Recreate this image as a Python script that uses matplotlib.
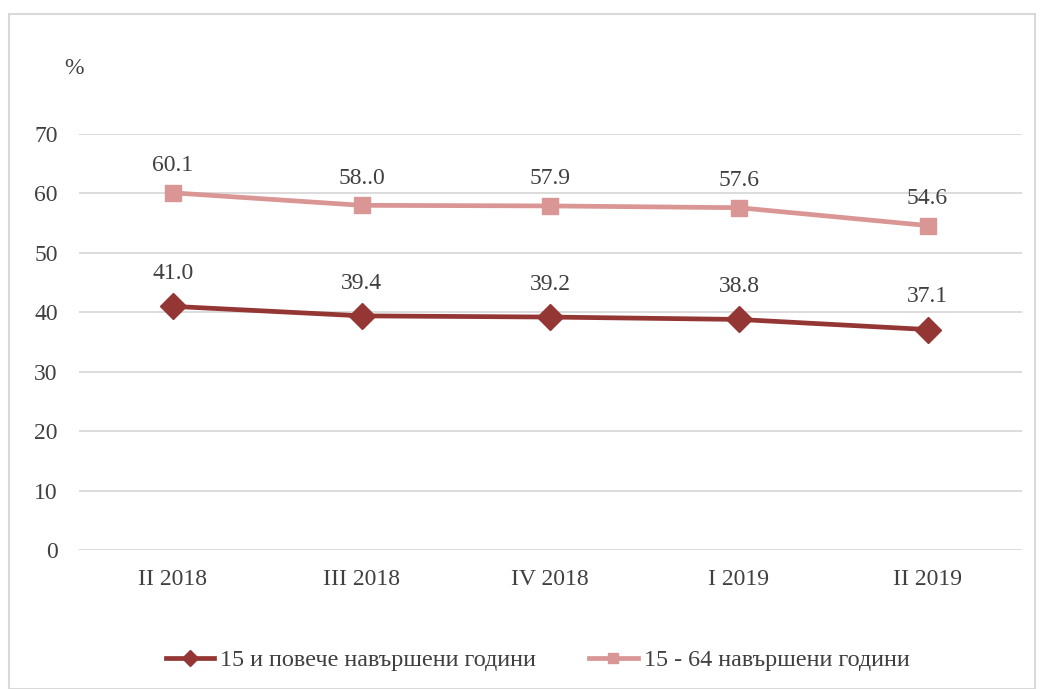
import matplotlib
matplotlib.use("Agg")
import matplotlib.pyplot as plt
from matplotlib.patches import Rectangle

categories = ["II 2018", "III 2018", "IV 2018", "I 2019", "II 2019"]
series1_name = "15 и повече навършени години"
series1 = [41.0, 39.4, 39.2, 38.8, 37.1]
series1_labels = ["41.0", "39.4", "39.2", "38.8", "37.1"]
series2_name = "15 - 64 навършени години"
series2 = [60.1, 58.0, 57.9, 57.6, 54.6]
series2_labels = ["60.1", "58..0", "57.9", "57.6", "54.6"]
yticks = [0, 10, 20, 30, 40, 50, 60, 70]

plt.rcParams['font.family'] = ['Liberation Serif', 'DejaVu Serif']

fig = plt.figure(figsize=(10.4, 6.89), dpi=100)
fig.patches.append(Rectangle((9/1040, 0), (1035-9)/1040, 1 - 14/689, transform=fig.transFigure,
                             fill=False, edgecolor='#d9d9d9', linewidth=1.5))
ax = fig.add_axes([0.0756, 0.2017, 0.907, 0.6038])

c1 = '#943634'
c2 = '#d99694'
tc = '#404040'
x = list(range(len(categories)))
ax.plot(x, series1, color=c1, lw=3.4, marker='D', markersize=13, label=series1_name, zorder=3)
ax.plot(x, series2, color=c2, lw=3.4, marker='s', markersize=12, label=series2_name, zorder=3)

for xi, v, t in zip(x, series1, series1_labels):
    ax.annotate(t, (xi, v), xytext=(0, 16), textcoords='offset points', ha='center', va='bottom',
                fontsize=17, color=tc)
for xi, v, t in zip(x, series2, series2_labels):
    ax.annotate(t, (xi, v), xytext=(0, 12), textcoords='offset points', ha='center', va='bottom',
                fontsize=17, color=tc)

ax.set_xlim(-0.5, len(categories) - 0.5)
ax.set_ylim(0, 70)
ax.set_yticks(yticks)
ax.set_xticks(x)
ax.set_xticklabels(categories)
ax.tick_params(axis='both', length=0, labelsize=17, labelcolor=tc)
ax.tick_params(axis='y', pad=15)
ax.tick_params(axis='x', pad=14)
ax.grid(axis='y', color='#d9d9d9', lw=1.3)
ax.set_axisbelow(True)
for s in ax.spines.values():
    s.set_visible(False)

fig.text(74/1040, 1 - 68/689, "%", fontsize=17, color=tc, ha='center', va='center')

leg = fig.legend(loc='center', bbox_to_anchor=(0.517, 1 - 660/689), ncol=2, frameon=False,
                 fontsize=17.4, handlelength=2.0, columnspacing=2.2, handletextpad=0.25,
                 markerscale=0.65)
for t in leg.get_texts():
    t.set_color(tc)

fig.savefig("out.png", dpi=100)
